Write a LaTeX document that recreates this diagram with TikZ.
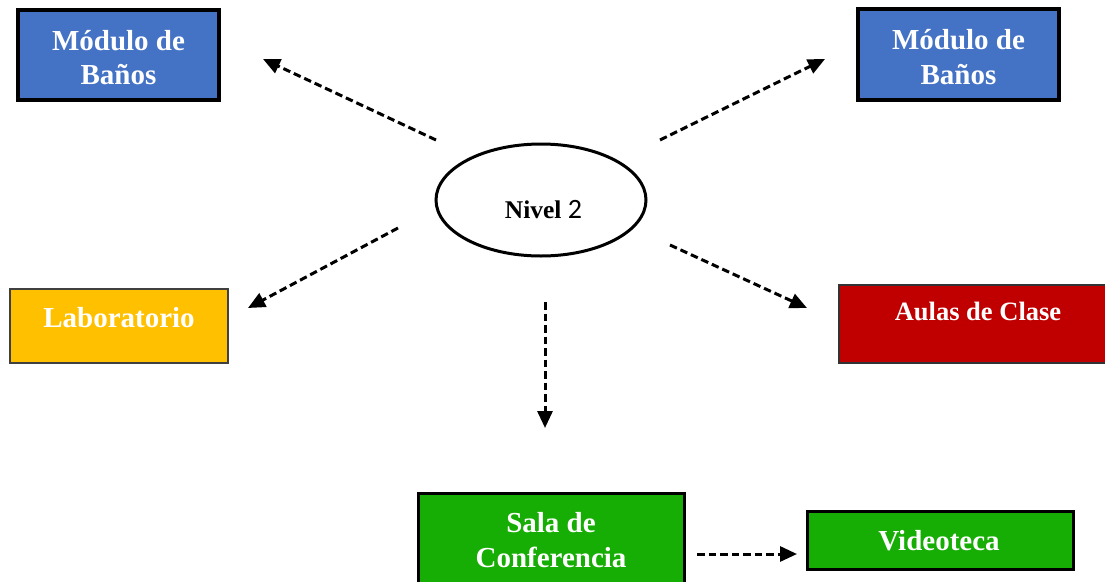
\documentclass[tikz,border=0pt]{standalone}
\usepackage{fontspec}
\setmainfont{Liberation Serif}
\newfontfamily\digitfont{Carlito}
\usetikzlibrary{arrows.meta,shapes.geometric}
\definecolor{cblue}{RGB}{68,114,196}
\definecolor{cyellow}{RGB}{255,192,0}
\definecolor{cred}{RGB}{192,0,0}
\definecolor{cgreen}{RGB}{22,173,4}
\tikzset{
  boxshape/.style={rectangle, inner sep=0pt, outer sep=0pt},
  lbl/.style={anchor=base, inner sep=0pt, text=white, font=\fontsize{29}{33}\selectfont\bfseries},
  conn/.style={line width=3pt, dash pattern=on 7.5pt off 4pt, -{Triangle[length=17pt,width=15pt]}},
}
\begin{document}
\begin{tikzpicture}[x=1pt,y=-1pt]
\useasboundingbox (0,0) rectangle (1105,581);
\fill[white] (0,0) rectangle (1105,581);
% boxes
\draw[fill=cblue, draw=black, line width=3.4pt] (18,10) rectangle (219,100) node[boxshape] (tl) at (118.5,55) {};
\draw[fill=cblue, draw=black, line width=3.4pt] (858,9) rectangle (1059,100) node[boxshape] (tr) at (958.5,55) {};
\draw[fill=cyellow, draw=black!75, line width=1.6pt] (10,289) rectangle (228,363) node[boxshape] (lab) at (119,326) {};
\draw[fill=cred, draw=black!80, line width=1.8pt] (839,285) rectangle (1115,363) node[boxshape] (aul) at (975,324) {};
\draw[fill=cgreen, draw=black, line width=3pt] (418,493) rectangle (684,600) node[boxshape] (sala) at (551,540) {};
\draw[fill=cgreen, draw=black, line width=3pt] (807,511) rectangle (1073,569) node[boxshape] (vid) at (940,540) {};
% labels
\node[lbl] (tl1) at (118.5,50) {Módulo de};
\node[lbl] (tl2) at (118.5,84) {Baños};
\node[lbl] (tr1) at (958.5,49) {Módulo de};
\node[lbl] (tr2) at (958.5,84) {Baños};
\node[lbl] (labt) at (119,327) {Laboratorio};
\node[lbl, font=\fontsize{26.5}{30}\selectfont\bfseries] (aulT) at (978,320) {Aulas de Clase};
\node[lbl] (sala1) at (551,532) {Sala de};
\node[lbl] (sala2) at (551,567) {Conferencia};
\node[lbl] (vidT) at (939,550) {Videoteca};
% ellipse
\node[ellipse, draw=black, line width=3pt, minimum width=210pt, minimum height=112pt, inner sep=0pt] (niv) at (541,200) {};
\node[anchor=base, inner sep=0pt] (nivT) at (543.5,218) {\fontsize{25.5}{28}\selectfont\textbf{Nivel} {\digitfont\fontsize{28}{30}\selectfont 2}};
% connector ends
\coordinate (a1s) at (436,140); \coordinate (a1e) at (263,59);
\coordinate (a2s) at (660,140); \coordinate (a2e) at (825,59);
\coordinate (a3s) at (398,228); \coordinate (a3e) at (248,308);
\coordinate (a4s) at (670,245); \coordinate (a4e) at (807,308);
\coordinate (a5s) at (545,302); \coordinate (a5e) at (545,428);
\coordinate (a6s) at (697,554); \coordinate (a6e) at (797,554);
\draw[conn] (a1s) -- (a1e);
\draw[conn] (a2s) -- (a2e);
\draw[conn] (a3s) -- (a3e);
\draw[conn] (a4s) -- (a4e);
\draw[conn] (a5s) -- (a5e);
\draw[conn] (a6s) -- (a6e);
\end{tikzpicture}
\end{document}
